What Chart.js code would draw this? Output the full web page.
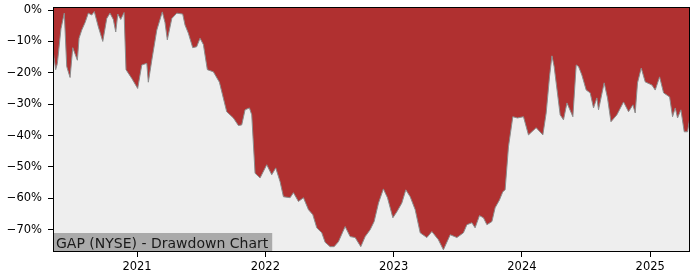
<!DOCTYPE html>
<html>
<head>
<meta charset="utf-8">
<script src="https://cdn.jsdelivr.net/npm/chart.js@4.4.1/dist/chart.umd.min.js"></script>
<style>
  html, body { margin: 0; padding: 0; background: #fff; }
  #wrap { width: 700px; height: 280px; }
</style>
</head>
<body>
<div id="wrap"><canvas id="chart-drawdown" width="700" height="280"></canvas></div>
<script>
// ============================================
// GAP (NYSE) drawdown chart
// ============================================

// x = fractional year
const ddYears = [
  2020.347, 2020.366, 2020.379, 2020.407, 2020.433, 2020.452, 2020.478, 2020.499, 2020.517, 2020.535,
  2020.548, 2020.569, 2020.595, 2020.620, 2020.647, 2020.667, 2020.698, 2020.733, 2020.764, 2020.789,
  2020.815, 2020.834, 2020.850, 2020.873, 2020.899, 2020.914, 2020.959, 2021.005, 2021.037, 2021.076,
  2021.088, 2021.115, 2021.154, 2021.197, 2021.218, 2021.236, 2021.271, 2021.310, 2021.356, 2021.374,
  2021.400, 2021.434, 2021.465, 2021.491, 2021.517, 2021.548, 2021.595, 2021.642, 2021.699, 2021.751,
  2021.790, 2021.816, 2021.842, 2021.876, 2021.894, 2021.920, 2021.959, 2022.011, 2022.050, 2022.081,
  2022.115, 2022.141, 2022.193, 2022.219, 2022.258, 2022.297, 2022.336, 2022.370, 2022.401, 2022.440,
  2022.466, 2022.505, 2022.536, 2022.570, 2022.622, 2022.661, 2022.700, 2022.744, 2022.778, 2022.817,
  2022.848, 2022.882, 2022.920, 2022.952, 2022.994, 2023.025, 2023.064, 2023.095, 2023.129, 2023.168,
  2023.207, 2023.259, 2023.298, 2023.349, 2023.388, 2023.441, 2023.493, 2023.544, 2023.571, 2023.610,
  2023.635, 2023.669, 2023.700, 2023.727, 2023.766, 2023.791, 2023.825, 2023.851, 2023.869, 2023.895,
  2023.929, 2023.965, 2024.012, 2024.051, 2024.111, 2024.163, 2024.189, 2024.215, 2024.234, 2024.251,
  2024.298, 2024.324, 2024.351, 2024.397, 2024.423, 2024.441, 2024.467, 2024.501, 2024.532, 2024.558,
  2024.584, 2024.597, 2024.641, 2024.667, 2024.694, 2024.740, 2024.792, 2024.831, 2024.865, 2024.883,
  2024.901, 2024.930, 2024.961, 2025.013, 2025.039, 2025.073, 2025.104, 2025.151, 2025.174, 2025.195,
  2025.213, 2025.239, 2025.265, 2025.291, 2025.306
];

// drawdown in percent
const ddValues = [
  -13.4, -19.0, -17.0, -6.0, -1.0, -18.0, -21.5, -12.0, -14.0, -16.0,
  -9.0, -6.4, -4.0, -1.0, -1.6, -0.5, -5.3, -10.0, -2.7, -1.0,
  -3.0, -7.0, -1.3, -3.0, -0.8, -19.0, -21.8, -25.0, -17.5, -17.0,
  -23.0, -16.0, -6.4, -0.6, -4.0, -9.5, -2.7, -1.0, -1.3, -4.8,
  -7.4, -12.0, -11.7, -9.0, -11.0, -19.0, -19.7, -23.0, -32.4, -34.4,
  -36.8, -36.6, -31.8, -31.2, -33.4, -52.0, -53.5, -49.3, -52.5, -50.3,
  -54.7, -59.5, -59.8, -58.2, -61.0, -59.8, -63.6, -65.2, -69.4, -71.0,
  -74.0, -75.4, -75.4, -73.8, -69.0, -72.2, -72.5, -75.4, -72.2, -70.0,
  -67.4, -61.5, -57.0, -59.8, -66.2, -64.3, -61.5, -57.3, -59.5, -63.6,
  -71.0, -72.5, -70.6, -73.2, -76.4, -71.6, -72.5, -71.0, -68.4, -67.8,
  -69.4, -65.5, -66.2, -68.4, -67.4, -63.0, -60.5, -57.9, -57.3, -43.6,
  -34.0, -34.4, -34.0, -39.8, -37.5, -39.8, -32.8, -21.3, -14.6, -18.0,
  -33.4, -35.0, -29.6, -34.0, -17.5, -18.0, -20.7, -25.5, -26.4, -31.2,
  -28.0, -31.8, -23.2, -28.0, -35.6, -33.4, -29.3, -32.4, -30.2, -32.8,
  -23.2, -18.5, -22.9, -23.9, -25.5, -21.3, -26.4, -27.7, -34.0, -31.2,
  -34.4, -31.8, -38.8, -38.8, -35.0
];

const xTickYears = [2021, 2022, 2023, 2024, 2025];
const yTickValues = [0, -10, -20, -30, -40, -50, -60, -70];
const chartLabel = 'GAP (NYSE) - Drawdown Chart';

const FONT = 'DejaVu Sans';

// plot background, frame and the label box
const framePlugin = {
  id: 'frame',
  beforeDatasetsDraw(chart) {
    const { ctx, chartArea: a } = chart;
    ctx.save();
    ctx.fillStyle = '#eeeeee';
    ctx.fillRect(a.left, a.top, a.right - a.left, a.bottom - a.top);
    ctx.restore();
  },
  afterDatasetsDraw(chart) {
    const { ctx, chartArea: a } = chart;
    ctx.save();
    // label box bottom-left
    ctx.font = `14px "${FONT}"`;
    const w = ctx.measureText(chartLabel).width;
    ctx.fillStyle = '#aaaaaa';
    ctx.fillRect(a.left, a.bottom - 19, w + 7, 19);
    ctx.fillStyle = '#1a1a1a';
    ctx.textBaseline = 'alphabetic';
    ctx.fillText(chartLabel, a.left + 3, a.bottom - 4.5);
    // frame
    ctx.strokeStyle = '#000';
    ctx.lineWidth = 1;
    ctx.strokeRect(Math.round(a.left) + 0.5, Math.round(a.top) + 0.5,
      Math.round(a.right - a.left) - 1, Math.round(a.bottom - a.top) - 1);
    ctx.restore();
  }
};

const points = ddYears.map((x, i) => ({ x, y: ddValues[i] }));

new Chart(document.getElementById('chart-drawdown'), {
  type: 'line',
  data: {
    datasets: [{
      data: points,
      borderColor: '#8c8c8c',
      borderWidth: 1,
      backgroundColor: '#b03030',
      fill: 'end',
      pointRadius: 0,
      tension: 0
    }]
  },
  options: {
    responsive: false,
    animation: false,
    layout: { padding: { top: 7, right: 10, left: 0, bottom: 0 } },
    plugins: {
      legend: { display: false },
      tooltip: { enabled: false }
    },
    scales: {
      x: {
        type: 'linear',
        min: 2020.345,
        max: 2025.31,
        afterBuildTicks: s => { s.ticks = xTickYears.map(v => ({ value: v })); },
        afterFit: s => { s.height = 28; s.paddingLeft = 0; s.paddingRight = 0; },
        ticks: {
          color: '#000',
          font: { family: FONT, size: 11.5 },
          padding: 3,
          maxRotation: 0,
          callback: v => String(v)
        },
        grid: { drawOnChartArea: false, drawTicks: true, tickLength: 5, color: '#000' },
        border: { display: false }
      },
      y: {
        min: -77.1,
        max: 0.96,
        afterBuildTicks: s => { s.ticks = yTickValues.map(v => ({ value: v })); },
        afterFit: s => { s.width = 53; s.paddingTop = 0; s.paddingBottom = 0; },
        ticks: {
          color: '#000',
          font: { family: FONT, size: 11.5 },
          padding: 6,
          callback: v => v === 0 ? '0%' : '\u2212' + Math.abs(v) + '%'
        },
        grid: { drawOnChartArea: false, drawTicks: true, tickLength: 5, color: '#000' },
        border: { display: false }
      }
    }
  },
  plugins: [framePlugin]
});
</script>
</body>
</html>
